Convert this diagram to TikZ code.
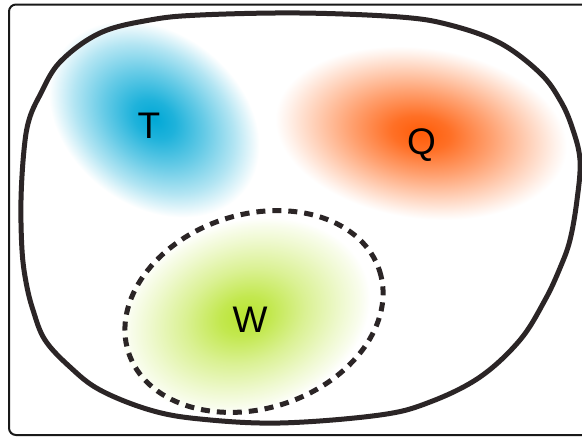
\documentclass[tikz,border=0pt]{standalone}
\usepackage{fontspec}
\setmainfont{Liberation Sans}
\definecolor{bluec}{RGB}{0,168,214}
\definecolor{orangec}{RGB}{255,92,8}
\definecolor{greenc}{RGB}{184,228,48}
\definecolor{linec}{RGB}{43,37,38}
\definecolor{framec}{RGB}{25,25,25}
\pgfdeclareradialshading{blueblob}{\pgfpointorigin}{color(0bp)=(bluec); color(5bp)=(bluec!88!white); color(12bp)=(bluec!60!white); color(19bp)=(bluec!30!white); color(23bp)=(bluec!10!white); color(25bp)=(white); color(50bp)=(white)}
\pgfdeclareradialshading{orangeblob}{\pgfpointorigin}{color(0bp)=(orangec); color(5bp)=(orangec!88!white); color(12bp)=(orangec!58!white); color(19bp)=(orangec!26!white); color(23bp)=(orangec!8!white); color(25bp)=(white); color(50bp)=(white)}
\pgfdeclareradialshading{greenblob}{\pgfpointorigin}{color(0bp)=(greenc); color(5bp)=(greenc!85!white); color(12bp)=(greenc!52!white); color(19bp)=(greenc!24!white); color(23bp)=(greenc!9!white); color(25bp)=(white); color(50bp)=(white)}
\tikzset{
  blobline/.style={line width=5pt, draw=linec},
  dashline/.style={line width=5pt, draw=linec, dash pattern=on 9pt off 7pt},
  framebox/.style={line width=2pt, draw=framec, rounded corners=7pt},
  lbl/.style={font=\fontsize{37}{37}\selectfont, text=black, inner sep=0pt, anchor=base}
}
\begin{document}
\begin{tikzpicture}[x=1pt,y=-1pt]
\useasboundingbox (0,0) rectangle (582,437);
\fill[white] (0,0) rectangle (582,437);
% blobs
\begin{scope}[shift={(154,119)},rotate=-38,xscale=4.6,yscale=3.45]
  \clip (0,0) circle (25bp);
  \pgflowlevelsynccm
  \pgfuseshading{blueblob}
\end{scope}
\begin{scope}[shift={(421,133)},rotate=-8,xscale=5.85,yscale=3.4]
  \clip (0,0) circle (25bp);
  \pgflowlevelsynccm
  \pgfuseshading{orangeblob}
\end{scope}
\begin{scope}[shift={(245,316)},rotate=18,xscale=5.1,yscale=3.8]
  \clip (0,0) circle (25bp);
  \pgflowlevelsynccm
  \pgfuseshading{greenblob}
\end{scope}
% dashed ellipse
\draw[dashline, rotate around={18:(254,311.5)}] (254,311.5) ellipse (132 and 97);
% main blob outline
\draw[blobline] plot[smooth cycle, tension=0.6] coordinates {
  (21,200) (22,250) (26,282) (33,310) (45,340) (70,367) (100,390) (150,410)
  (200,419) (280,423) (380,415) (430,402) (480,377) (520,340) (545,300)
  (560,268) (570,240) (577,200) (580,160) (572,127) (560,100) (540,73)
  (500,43) (450,25) (400,17) (300,13) (200,15) (150,20) (100,33) (60,62)
  (40,95) (29,120) (24,150)};
% frame
\draw[framebox] (9,4.5) rectangle (600,435);
% labels
\node[lbl] (T) at (149,138) {T};
\node[lbl] (Q) at (421.5,154) {Q};
\node[lbl] (W) at (250,332) {W};
\end{tikzpicture}
\end{document}
